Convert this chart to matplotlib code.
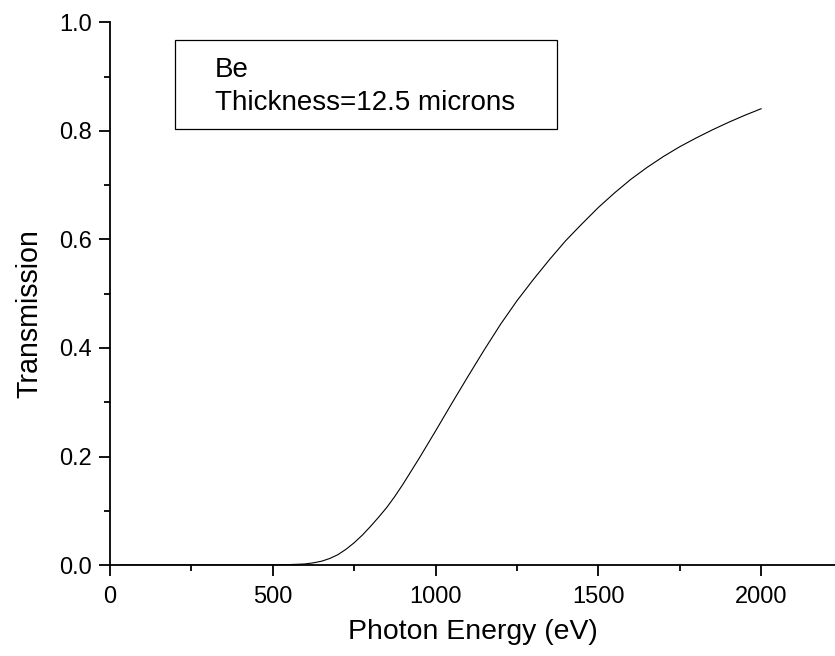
import numpy as np
import matplotlib.pyplot as plt
from matplotlib.patches import Rectangle
from matplotlib.ticker import MultipleLocator

plt.rcParams['font.family'] = ['Liberation Sans', 'DejaVu Sans']

# Be filter, 12.5 micron, transmission vs photon energy
energy = [30, 300, 500, 550, 575, 600, 625, 650, 675, 700, 725, 750, 775,
          800, 825, 850, 875, 900, 950, 1000, 1050, 1100, 1150, 1200, 1250,
          1300, 1350, 1400, 1450, 1500, 1550, 1600, 1650, 1700, 1750, 1800,
          1850, 1900, 1950, 2000]
trans = [0.0, 0.0, 0.0002, 0.0008, 0.0013, 0.002, 0.004, 0.007, 0.012, 0.019,
         0.029, 0.041, 0.055, 0.071, 0.088, 0.106, 0.1265, 0.149, 0.197,
         0.247, 0.298, 0.348, 0.397, 0.444, 0.487, 0.526, 0.563, 0.598, 0.629,
         0.659, 0.686, 0.711, 0.733, 0.753, 0.771, 0.787, 0.802, 0.816, 0.829,
         0.841]

label_lines = ['Be', 'Thickness=12.5 microns']

fig = plt.figure(figsize=(8.35, 6.56), dpi=100)
ax = fig.add_axes([110 / 835, 91 / 656, 725 / 835, 542.5 / 656])

ax.plot(energy, trans, color='k', lw=0.8)

ax.set_xlim(0, 2227)
ax.set_ylim(0, 1.0)
ax.xaxis.set_major_locator(MultipleLocator(500))
ax.xaxis.set_minor_locator(MultipleLocator(250))
ax.yaxis.set_major_locator(MultipleLocator(0.2))
ax.yaxis.set_minor_locator(MultipleLocator(0.1))
ax.yaxis.set_major_formatter(plt.FormatStrFormatter('%.1f'))

ax.spines['top'].set_visible(False)
ax.spines['right'].set_visible(False)
for s in ['left', 'bottom']:
    ax.spines[s].set_linewidth(1.3)
ax.tick_params(which='major', direction='out', length=8, width=1.3, labelsize=17)
ax.tick_params(axis='x', which='major', pad=7)
ax.tick_params(axis='y', which='major', pad=5)
ax.tick_params(which='minor', direction='out', length=4.5, width=1.3)

ax.set_xlabel('Photon Energy (eV)', fontsize=20.4, labelpad=8)
ax.set_ylabel('Transmission', fontsize=20.6)
ax.yaxis.set_label_coords(-0.0924, 0.4627)

# boxed annotation
ax.add_patch(Rectangle((0.0897, 0.8037), 0.5269, 0.164, transform=ax.transAxes,
                       fill=False, edgecolor='k', lw=0.9))
ax.text(0.1448, 0.8995, label_lines[0], transform=ax.transAxes, fontsize=20)
ax.text(0.1448, 0.8387, label_lines[1], transform=ax.transAxes, fontsize=20)

plt.savefig('out.png', dpi=100)
